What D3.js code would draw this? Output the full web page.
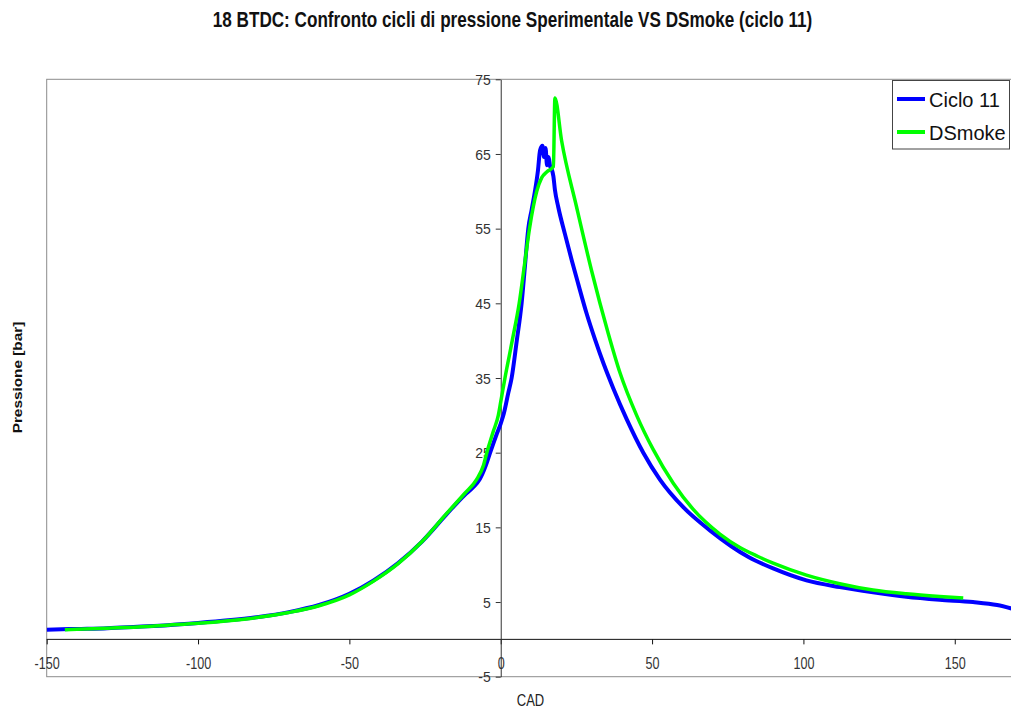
<!DOCTYPE html>
<html>
<head>
<meta charset="utf-8">
<script src="https://cdn.jsdelivr.net/npm/d3@7"></script>
<style>
  html, body { margin: 0; padding: 0; background: #fff; }
  svg { display: block; font-family: "Liberation Sans", Arial, sans-serif; }
</style>
</head>
<body>
<svg id="chart" width="1011" height="711"></svg>
<script>
// Crank angle (CAD) and cylinder pressure [bar] for the measured cycle 11
const ciclo11Cad = [-150, -145, -140, -130, -120, -110, -100, -90, -80, -70, -60, -50, -42, -34, -26, -18, -12, -9, -7, -5, -3.5, -1.5, 0, 1, 2.5, 3.6, 5.3, 6.9, 8, 9.1, 10.2, 11.3, 12.3, 13.0, 13.8, 14.3, 14.8, 15.3, 15.8, 16.3, 16.8, 17.4, 17.9, 19.0, 21.2, 23.5, 25.6, 28.4, 31.2, 33.9, 37.2, 41.6, 47.1, 52.6, 60.3, 69.1, 82, 90, 101, 112, 123, 134, 145, 156, 164, 170];
const ciclo11P = [1.3, 1.35, 1.4, 1.5, 1.7, 1.9, 2.2, 2.55, 3.0, 3.65, 4.6, 6.1, 7.9, 10.2, 13.1, 16.7, 19.3, 20.4, 21.4, 23.2, 25.0, 27.3, 28.9, 30.2, 33, 35, 40, 45, 50, 55, 57.5, 60, 62.8, 65.5, 66.1, 64.6, 65.8, 63.5, 64.6, 63.4, 63.0, 62.0, 60.2, 57.9, 54.3, 50.7, 47.6, 43.6, 40.1, 37.0, 33.6, 29.5, 25.0, 21.4, 17.7, 14.6, 11.0, 9.5, 7.9, 7.0, 6.3, 5.7, 5.3, 5.0, 4.6, 4.0];

// Simulated pressure trace (DSmoke)
const dsmokeCad = [-144, -140, -130, -120, -110, -100, -90, -80, -70, -60, -50, -42, -34, -26, -18, -12, -8, -5.7, -4.6, -2.5, -0.8, 0, 1.4, 3.8, 6.1, 7.8, 9.5, 11.9, 13.5, 15.2, 17.4, 17.9, 20.1, 25, 30, 35.5, 39.4, 44.9, 50.4, 57, 63.6, 72.4, 79, 85, 90, 101, 112, 123, 134, 145, 152.8];
const dsmokeP = [1.3, 1.35, 1.5, 1.65, 1.9, 2.15, 2.5, 2.95, 3.6, 4.5, 5.95, 7.8, 10.1, 13.1, 16.8, 19.5, 21.4, 23.3, 25, 27.8, 30, 31.8, 35, 40, 45, 50, 55, 60, 61.8, 62.6, 63.3, 72.5, 66.8, 58.0, 49.4, 41.0, 35.7, 30.0, 25.4, 20.9, 17.4, 14.1, 12.3, 11.1, 10.2, 8.6, 7.45, 6.6, 6.1, 5.75, 5.55];

// Axis ticks
const xTicks = [-150, -100, -50, 0, 50, 100, 150];
const yTicks = [-5, 5, 15, 25, 35, 45, 55, 65, 75];

const seriesNames = ["Ciclo 11", "DSmoke"];
const seriesColors = ["#0000ff", "#00ff00"];

const titleText = "18 BTDC: Confronto cicli di pressione Sperimentale VS DSmoke (ciclo 11)";
const xTitle = "CAD";
const yTitle = "Pressione [bar]";

const svg = d3.select("#chart");
const W = 1011, H = 711;

const plot = { left: 46.7, top: 79.3, bottom: 676.7, right: 1015.3 };

const x = d3.scaleLinear().domain([-150, 170]).range([plot.left, plot.right]);
const y = d3.scaleLinear().domain([-5, 75]).range([plot.bottom, plot.top]);

// Plot-area frame
svg.append("rect")
  .attr("x", plot.left).attr("y", plot.top)
  .attr("width", plot.right - plot.left + 10).attr("height", plot.bottom - plot.top)
  .attr("fill", "#fff").attr("stroke", "#8c8c8c").attr("stroke-width", 1);

svg.append("clipPath").attr("id", "plotClip")
  .append("rect")
  .attr("x", plot.left).attr("y", plot.top)
  .attr("width", W - plot.left).attr("height", plot.bottom - plot.top);

// Horizontal axis through p = 0
const xAxis = d3.axisBottom(x).tickValues(xTicks).tickSize(5).tickSizeOuter(0)
  .tickFormat(d => String(d));
const gx = svg.append("g").attr("transform", `translate(0,${y(0)})`).call(xAxis);
gx.select(".domain").attr("stroke", "#111").attr("d", `M${plot.left},0H${W}`);
gx.selectAll(".tick line").attr("stroke", "#111");
gx.selectAll(".tick text")
  .attr("y", 0).attr("dy", 0)
  .attr("transform", "translate(0,30) scale(1,1.33)")
  .attr("font-size", 12.6).attr("fill", "#333")
  .attr("font-family", "Liberation Sans, Arial, sans-serif");

// Vertical axis through CAD = 0
const yAxis = d3.axisLeft(y).tickValues(yTicks).tickSize(5).tickSizeOuter(0)
  .tickFormat(d => String(d));
const gy = svg.append("g").attr("transform", `translate(${x(0)},0)`).call(yAxis);
gy.select(".domain").attr("stroke", "#333");
gy.selectAll(".tick line").attr("stroke", "#333");
gy.selectAll(".tick text")
  .attr("x", -10).attr("dy", "0.36em")
  .attr("font-size", 14).attr("fill", "#333")
  .attr("font-family", "Liberation Sans, Arial, sans-serif");

// Pressure traces
const line = d3.line()
  .x(d => x(d[0])).y(d => y(d[1]))
  .curve(d3.curveMonotoneX);

const series = [
  d3.zip(ciclo11Cad, ciclo11P),
  d3.zip(dsmokeCad, dsmokeP)
];
const widths = [4, 3.5];

const gLines = svg.append("g").attr("clip-path", "url(#plotClip)");
series.forEach((pts, i) => {
  gLines.append("path")
    .datum(pts)
    .attr("d", line)
    .attr("fill", "none")
    .attr("stroke", seriesColors[i])
    .attr("stroke-width", widths[i])
    .attr("stroke-linejoin", "round");
});

// Title, condensed into a 600 px wide heading
const title = svg.append("text")
  .attr("text-anchor", "middle")
  .attr("font-weight", "bold")
  .attr("font-size", 16)
  .attr("fill", "#111")
  .text(titleText);
const tw = title.node().getComputedTextLength();
title.attr("font-size", 16 * 600 / tw)
  .attr("transform", "translate(512.5,27) scale(1,1.3)");

// Axis titles
svg.append("text")
  .attr("text-anchor", "middle")
  .attr("font-size", 13)
  .attr("fill", "#222")
  .attr("transform", "translate(530.5,706) scale(1,1.22)")
  .text(xTitle);

svg.append("text")
  .attr("text-anchor", "middle")
  .attr("font-weight", "bold")
  .attr("font-size", 12)
  .attr("dy", "0.36em")
  .attr("fill", "#111")
  .attr("transform", "translate(17.5,377.5) rotate(-90) scale(1.28,1)")
  .text(yTitle);

// Legend
const lg = svg.append("g");
lg.append("rect")
  .attr("x", 892.5).attr("y", 80.5).attr("width", 117).attr("height", 68.5)
  .attr("fill", "#fff").attr("stroke", "#444").attr("stroke-width", 1);
seriesNames.forEach((name, i) => {
  const cy = 99 + i * 33;
  lg.append("line")
    .attr("x1", 897).attr("x2", 925).attr("y1", cy).attr("y2", cy)
    .attr("stroke", seriesColors[i]).attr("stroke-width", 4);
  lg.append("text")
    .attr("x", 929).attr("y", cy + 7.5)
    .attr("font-size", 20).attr("fill", "#111")
    .text(name);
});
</script>
</body>
</html>
